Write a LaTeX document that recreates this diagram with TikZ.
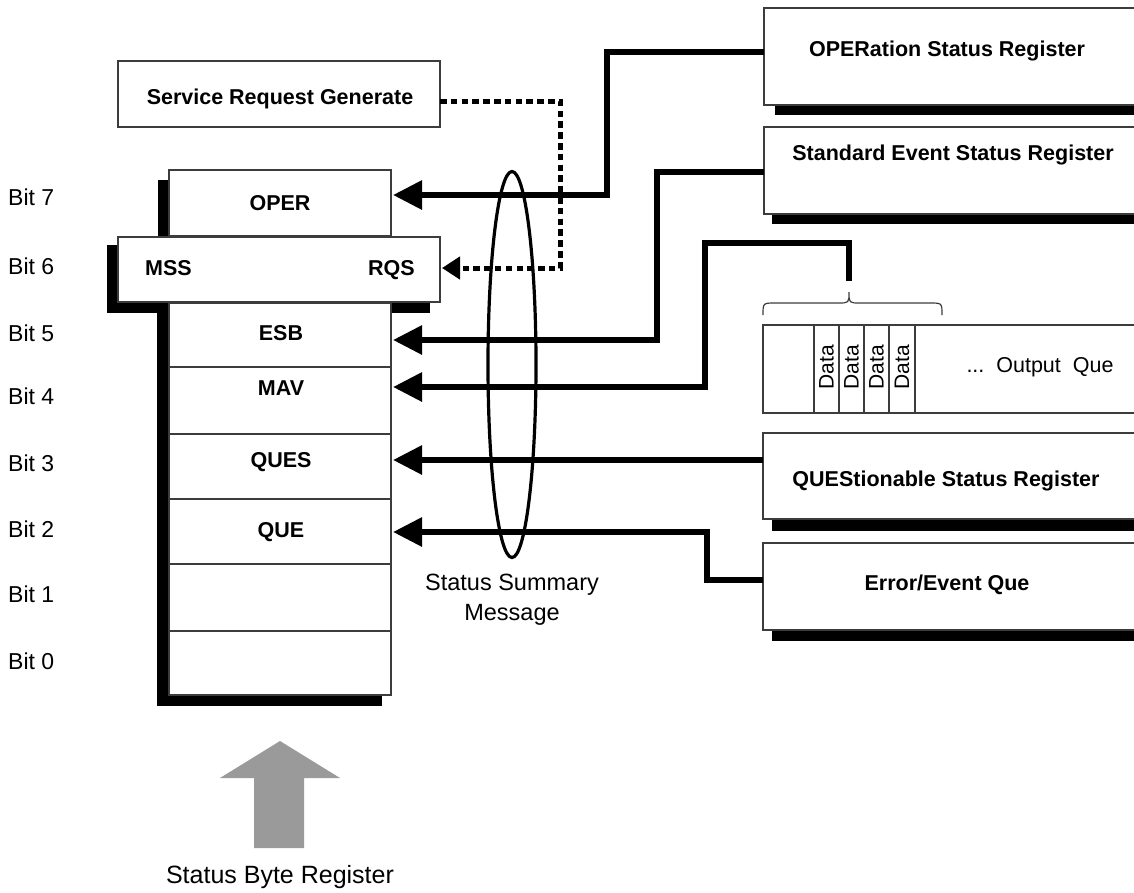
\documentclass[tikz,border=0pt]{standalone}
\usepackage{fontspec}
\setmainfont{Liberation Sans}
\usetikzlibrary{arrows.meta,shapes.geometric}
\definecolor{boxline}{HTML}{3C3C3C}
\definecolor{bigarrow}{HTML}{9A9A9A}
\begin{document}
\begin{tikzpicture}[x=1pt,y=-1pt,
  reg/.style={draw=boxline,line width=1.2pt,fill=white,inner sep=0pt,outer sep=0pt,anchor=north west},
  bl/.style={font=\fontsize{21.5}{24}\selectfont\bfseries,inner sep=0pt},
  rl/.style={font=\fontsize{23}{28}\selectfont,inner sep=0pt},
  conn/.style={line width=6pt,-{Triangle[length=29pt,width=28pt]}},
  dots/.style={line width=5pt,dash pattern=on 6.5pt off 4.3pt,-{Triangle[length=18pt,width=22pt]}},
]
\useasboundingbox (0,0) rectangle (1134,892);
\clip (0,0) rectangle (1134,892);
\fill[white] (0,0) rectangle (1134,892);

% ---------- Service Request Generate
\node[reg,minimum width=322pt,minimum height=66pt] (srg) at (118,61) {};
\node[bl] (srgt) at (280,99) {Service Request Generate};

% ---------- status byte register column: shadows
\fill (158,180) rectangle (382,246);
\fill (107,245) rectangle (430,313);
\fill (157,313) rectangle (382,706);

% ---------- rows
\node[reg,minimum width=222pt,minimum height=66pt] (roper) at (169,170) {};
\node[reg,minimum width=322pt,minimum height=65pt] (rmss) at (118,237) {};
\node[reg,minimum width=222pt,minimum height=64pt] (r5) at (169,303) {};
\node[reg,minimum width=222pt,minimum height=67pt] (r4) at (169,367) {};
\node[reg,minimum width=222pt,minimum height=65pt] (r3) at (169,434) {};
\node[reg,minimum width=222pt,minimum height=65pt] (r2) at (169,499) {};
\node[reg,minimum width=222pt,minimum height=67pt] (r1) at (169,564) {};
\node[reg,minimum width=222pt,minimum height=64pt] (r0) at (169,631) {};

\node[bl] (toper) at (280,203) {OPER};
\node[bl,anchor=base west] (tmss) at (145,275) {MSS};
\node[bl,anchor=base east] (trqs) at (415,275) {RQS};
\node[bl] (tesb) at (281,333) {ESB};
\node[bl] (tmav) at (281,388) {MAV};
\node[bl] (tques) at (281,462) {QUES};
\node[bl] (tque) at (281,532) {QUE};

% ---------- bit labels
\node[rl,anchor=west] (b7) at (8,197) {Bit 7};
\node[rl,anchor=west] (b6) at (8,266) {Bit 6};
\node[rl,anchor=west] (b5) at (8,333) {Bit 5};
\node[rl,anchor=west] (b4) at (8,396) {Bit 4};
\node[rl,anchor=west] (b3) at (8,463) {Bit 3};
\node[rl,anchor=west] (b2) at (8,529) {Bit 2};
\node[rl,anchor=west] (b1) at (8,594) {Bit 1};
\node[rl,anchor=west] (b0) at (8,661) {Bit 0};

% ---------- right-hand registers: shadows
\fill (775,18) rectangle (1150,115);
\fill (772,137) rectangle (1150,224);
\fill (772,443) rectangle (1150,531);
\fill (772,553) rectangle (1150,641);

\node[reg,minimum width=386pt,minimum height=97pt] (opsr) at (764,8) {};
\node[bl] (opsrt) at (947,51) {OPERation Status Register};
\node[reg,minimum width=386pt,minimum height=87pt] (sesr) at (764,127) {};
\node[bl] (sesrt) at (953,155) {Standard Event Status Register};
\node[reg,minimum width=387pt,minimum height=88pt] (outq) at (763,325) {};
\node[reg,minimum width=387pt,minimum height=86pt] (qsr) at (763,433) {};
\node[bl] (qsrt) at (946,481) {QUEStionable Status Register};
\node[reg,minimum width=387pt,minimum height=87pt] (eeq) at (763,543) {};
\node[bl] (eeqt) at (947,585) {Error/Event Que};

% ---------- output queue cells
\foreach \xx in {814,839,864,889,915} \draw[boxline,line width=1.2pt] (\xx,325) -- (\xx,413);
\foreach \xx/\nn in {826.5/d1,851.5/d2,876.5/d3,902/d4}
  \node[inner sep=0pt,rotate=90,font=\fontsize{21}{24}\selectfont] (\nn) at (\xx,367) {Data};
\node[inner sep=0pt,font=\fontsize{21.5}{26}\selectfont] (oqt) at (1040,367) {...\ \ Output\ \ Que};
\draw[boxline,line width=1.2pt] (763,315) .. controls (763,303) .. (775,303) -- (838,303)
  .. controls (849,303) .. (849,292) .. controls (849,303) .. (860,303) -- (930,303)
  .. controls (942,303) .. (942,315);
\coordinate (btip) at (849,281);

% ---------- connectors
\coordinate (aOPER) at (393,195);
\coordinate (aRQS) at (442,268);
\coordinate (aESB) at (393,340);
\coordinate (aMAV) at (393,387);
\coordinate (aQUES) at (393,460);
\coordinate (aQUE) at (393,532);

\draw[conn] (opsr.west |- 0,52) -- (607,52) -- (607,195) -- (aOPER);
\draw[conn] (sesr.west |- 0,172) -- (657,172) -- (657,340) -- (aESB);
\draw[conn] (btip) -- (849,243) -- (705,243) -- (705,387) -- (aMAV);
\draw[conn] (qsr.west |- 0,460) -- (aQUES);
\draw[conn] (eeq.west |- 0,580) -- (707,580) -- (707,532) -- (aQUE);
\draw[dots] (srg.east |- 0,101) -- (560,101) -- (560,268) -- (aRQS);

% ---------- status summary message
\node[ellipse,draw,line width=3.2pt,minimum width=48pt,minimum height=386pt,inner sep=0pt] (ssm) at (512,364.5) {};
\node[align=center,inner sep=0pt,font=\fontsize{23.5}{30}\selectfont] (ssmt) at (512,600) {Status Summary\\Message};

% ---------- big grey arrow
\fill[bigarrow] (280,741) -- (340,778) -- (304,778) -- (304,848) -- (254,848) -- (254,778) -- (220,778) -- cycle;
\node[inner sep=0pt,font=\fontsize{25}{30}\selectfont] (sbr) at (280,877) {Status Byte Register};
\end{tikzpicture}
\end{document}
